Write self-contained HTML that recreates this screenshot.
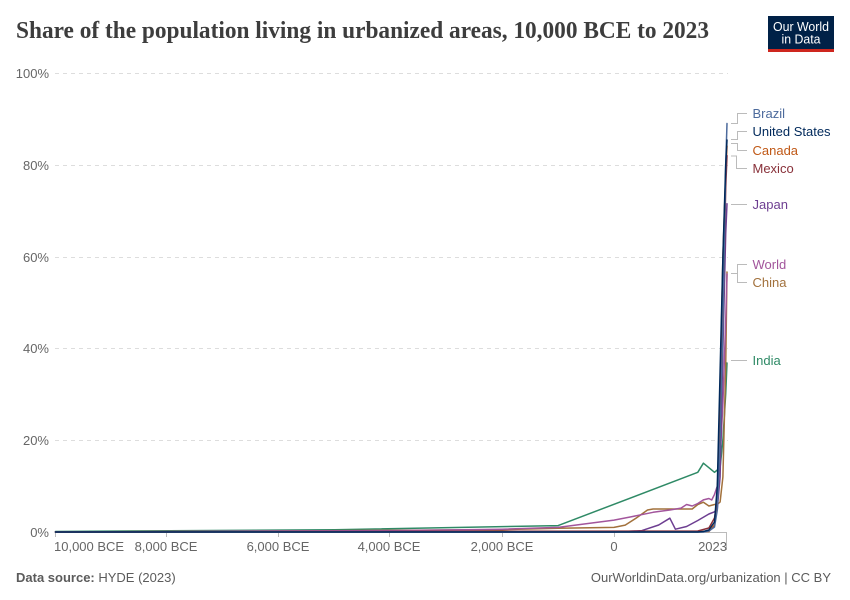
<!DOCTYPE html>
<html>
<head>
<meta charset="utf-8">
<style>
html,body{margin:0;padding:0;background:#fff;}
svg{display:block;}
text{font-family:"Liberation Sans",Arial,sans-serif;}
</style>
</head>
<body>
<svg width="850" height="600" viewBox="0 0 850 600" xmlns="http://www.w3.org/2000/svg">
<rect width="850" height="600" fill="#fff"/>
<!-- Title -->
<text x="16" y="38" font-size="24" fill="#3d3d3d" font-weight="bold" textLength="693" lengthAdjust="spacingAndGlyphs" style="font-family:'Liberation Serif',serif">Share of the population living in urbanized areas, 10,000 BCE to 2023</text>
<!-- Logo -->
<rect x="768" y="16" width="66" height="33" fill="#002147"/>
<rect x="768" y="49" width="66" height="3" fill="#ce261e"/>
<text x="801" y="31" font-size="13" fill="#fff" text-anchor="middle" textLength="56" lengthAdjust="spacingAndGlyphs">Our World</text>
<text x="801" y="43.5" font-size="13" fill="#fff" text-anchor="middle" textLength="39" lengthAdjust="spacingAndGlyphs">in Data</text>

<!-- gridlines -->
<g stroke="#ddd" stroke-width="1" stroke-dasharray="4,4">
<line x1="55" y1="73.5" x2="728" y2="73.5"/>
<line x1="55" y1="165.5" x2="728" y2="165.5"/>
<line x1="55" y1="257.5" x2="728" y2="257.5"/>
<line x1="55" y1="348.5" x2="728" y2="348.5"/>
<line x1="55" y1="440.5" x2="728" y2="440.5"/>
</g>
<!-- y labels -->
<g font-size="13" fill="#666" text-anchor="end">
<text x="49" y="78">100%</text>
<text x="49" y="170">80%</text>
<text x="49" y="262">60%</text>
<text x="49" y="353">40%</text>
<text x="49" y="445">20%</text>
<text x="49" y="537">0%</text>
</g>
<!-- x axis -->
<line x1="55" y1="532.5" x2="727" y2="532.5" stroke="#bbb" stroke-width="1"/>
<g stroke="#bbb" stroke-width="1">
<line x1="55.5" y1="532" x2="55.5" y2="537"/>
<line x1="166.5" y1="532" x2="166.5" y2="537"/>
<line x1="278.5" y1="532" x2="278.5" y2="537"/>
<line x1="389.5" y1="532" x2="389.5" y2="537"/>
<line x1="502.5" y1="532" x2="502.5" y2="537"/>
<line x1="614.5" y1="532" x2="614.5" y2="537"/>
<line x1="726.5" y1="532" x2="726.5" y2="550"/>
</g>
<g font-size="13" fill="#666">
<text x="54" y="551">10,000 BCE</text>
<text x="166" y="551" text-anchor="middle">8,000 BCE</text>
<text x="278" y="551" text-anchor="middle">6,000 BCE</text>
<text x="389" y="551" text-anchor="middle">4,000 BCE</text>
<text x="502" y="551" text-anchor="middle">2,000 BCE</text>
<text x="614" y="551" text-anchor="middle">0</text>
<text x="727" y="551" text-anchor="end">2023</text>
</g>

<!-- series -->
<g fill="none" stroke-width="1.5" stroke-linejoin="round" stroke-linecap="round">
<path stroke="#2f8a66" d="M55.5,531.5 L334.75,529.7 L558.15,525.6 L697.8,472.3 L703.4,463.2 L708.9,467.7 L714.5,472.3 L717.3,470 L720.1,467.7 L722.9,440 L725.7,394 L727,363"/>
<path stroke="#a2713c" d="M55.5,532 L278.9,531 L502.3,529.7 L558.15,528.3 L614,527.4 L625.2,525.1 L636.3,518 L647.5,510 L653.1,509 L692.2,509 L697.8,504.5 L703.4,502.2 L708.9,506 L714.5,504.5 L717.3,504.5 L720.1,502 L722.9,476.9 L725.7,366.8 L727,272"/>
<path stroke="#a2559c" d="M55.5,532 L390.6,530.6 L502.3,529.2 L558.15,527.4 L614,520.1 L630.8,516.9 L653.1,512.3 L669.85,510 L681,508.1 L686.6,504.5 L692.2,506 L697.8,503.5 L703.4,499.9 L708.9,498.5 L711.7,500 L714.5,494.4 L717.3,486.1 L720.1,458.6 L722.9,403.5 L725.7,320.9 L727,274"/>
<path stroke="#6d3e91" d="M55.5,532 L614,532 L641.9,530.6 L658.7,525 L669.85,518.2 L675.4,529.2 L686.6,526.5 L697.8,520.5 L708.9,514 L714.5,511.8 L717.3,509 L720.1,476.9 L722.9,348.4 L725.7,233.7 L727,203.8"/>
<path stroke="#c05917" d="M55.5,532 L708.9,531.5 L714.5,525 L717.3,495 L720.1,394 L722.9,256 L725.7,174 L727,146"/>
<path stroke="#883039" d="M55.5,532 L697.8,531 L708.9,528 L714.5,518 L717.3,500 L720.1,440 L722.9,320 L725.7,187.8 L727,155.6"/>
<path stroke="#4c6a9c" d="M55.5,532 L703.4,532 L708.9,531 L714.5,527 L717.3,510 L720.1,440 L722.9,325 L725.7,164.8 L727,123.5"/>
<path stroke="#00295b" d="M55.5,532 L697.8,532 L703.4,531.5 L708.9,530 L714.5,522 L717.3,486 L720.1,371.4 L722.9,256.6 L725.7,164.8 L727,140"/>
</g>

<!-- connectors -->
<g fill="none" stroke="#bbb" stroke-width="1">
<path d="M731,123.5 H737.5 V113.5 H747"/>
<path d="M731,139.5 H737.5 V131.5 H747"/>
<path d="M731,143.5 H737.5 V150.5 H747"/>
<path d="M731,156 H736.5 V168.5 H747"/>
<path d="M731,204.5 H747"/>
<path d="M731,273.5 H737.5 V264.5 H747"/>
<path d="M737.5,273.5 V282.5 H747"/>
<path d="M731,360.5 H747"/>
</g>
<g font-size="13">
<text x="752.5" y="118" fill="#4c6a9c">Brazil</text>
<text x="752.5" y="136" fill="#00295b">United States</text>
<text x="752.5" y="155" fill="#c05917">Canada</text>
<text x="752.5" y="173" fill="#883039">Mexico</text>
<text x="752.5" y="209" fill="#6d3e91">Japan</text>
<text x="752.5" y="269" fill="#a2559c">World</text>
<text x="752.5" y="287" fill="#a2713c">China</text>
<text x="752.5" y="365" fill="#2f8a66">India</text>
</g>

<!-- footer -->
<text x="16" y="582" font-size="13" fill="#5b5b5b"><tspan font-weight="bold">Data source:</tspan> HYDE (2023)</text>
<text x="831" y="582" font-size="13" fill="#5b5b5b" text-anchor="end">OurWorldinData.org/urbanization | CC BY</text>
</svg>
</body>
</html>
